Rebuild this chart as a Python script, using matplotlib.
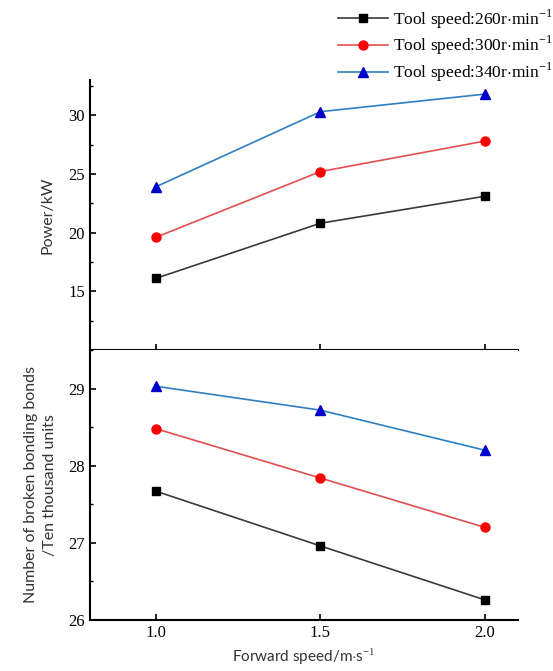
import matplotlib.pyplot as plt
from matplotlib.ticker import MultipleLocator

plt.rcParams['font.family'] = ['Liberation Serif', 'DejaVu Serif']
plt.rcParams['mathtext.fontset'] = 'custom'
plt.rcParams['mathtext.rm'] = 'Liberation Serif'

# data
speed = [1.0, 1.5, 2.0]
power_260 = [16.1, 20.8, 23.1]
power_300 = [19.6, 25.2, 27.8]
power_340 = [23.9, 30.3, 31.8]
bonds_260 = [27.67, 26.96, 26.26]
bonds_300 = [28.48, 27.84, 27.20]
bonds_340 = [29.03, 28.72, 28.20]
power_ticks = [15, 20, 25, 30]
labels = [r'Tool speed:260r$\cdot$min$^{-1}$',
          r'Tool speed:300r$\cdot$min$^{-1}$',
          r'Tool speed:340r$\cdot$min$^{-1}$']

styles = [('#3a3a3a', 'black', 's', 5.5),
          ('#e05050', 'red', 'o', 6.5),
          ('#2f7fc0', '#0000cc', '^', 6.5)]

fig = plt.figure(figsize=(5.53, 6.71), dpi=100)
ax1 = fig.add_axes([0.1627, 0.4784, 0.774, 0.4024])
ax2 = fig.add_axes([0.1627, 0.0760, 0.774, 0.4024])

handles = []
for ys, (lc, mc, m, ms), lab in zip([power_260, power_300, power_340], styles, labels):
    h, = ax1.plot(speed, ys, color=lc, lw=1.2, marker=m, ms=ms,
                  mfc=mc, mec=mc, label=lab)
    handles.append(h)
for ys, (lc, mc, m, ms) in zip([bonds_260, bonds_300, bonds_340], styles):
    ax2.plot(speed, ys, color=lc, lw=1.2, marker=m, ms=ms, mfc=mc, mec=mc)

for ax in (ax1, ax2):
    ax.set_xlim(0.8, 2.1)
    ax.set_xticks([1.0, 1.5, 2.0])
    ax.spines['right'].set_visible(False)
    ax.spines['top'].set_visible(False)
    for s in ('left', 'bottom'):
        ax.spines[s].set_linewidth(1.5)
    ax.tick_params(direction='in', length=4, width=1.2, labelsize=12)
    ax.tick_params(which='minor', direction='in', length=2.5, width=1)

ax1.set_ylim(10, 33)
ax1.set_yticks(power_ticks)
ax1.yaxis.set_minor_locator(MultipleLocator(2.5))
ax1.tick_params(axis='x', labelbottom=False)

ax2.set_ylim(26, 29.5)
ax2.yaxis.set_major_locator(MultipleLocator(1))
ax2.yaxis.set_minor_locator(MultipleLocator(0.5))

sans = ['Lato', 'DejaVu Sans']
ax1.set_ylabel('Power/kW', family=sans, fontsize=11.5, color='#333333', labelpad=10)
ax2.set_ylabel('Number of broken bonding bonds\n/Ten thousand units',
               family=sans, fontsize=11.5, color='#333333', labelpad=8,
               linespacing=1.5)
ax2.set_xlabel(r'Forward speed/m$\cdot$s$^{-1}$', family=sans, fontsize=11,
               color='#333333', labelpad=4)

fig.legend(handles=handles, loc='upper left', bbox_to_anchor=(0.598, 0.9995),
           frameon=False, fontsize=12.5, handlelength=2.9, handletextpad=0.3,
           labelspacing=0.2, borderaxespad=0)

fig.savefig('out.png', dpi=100)
